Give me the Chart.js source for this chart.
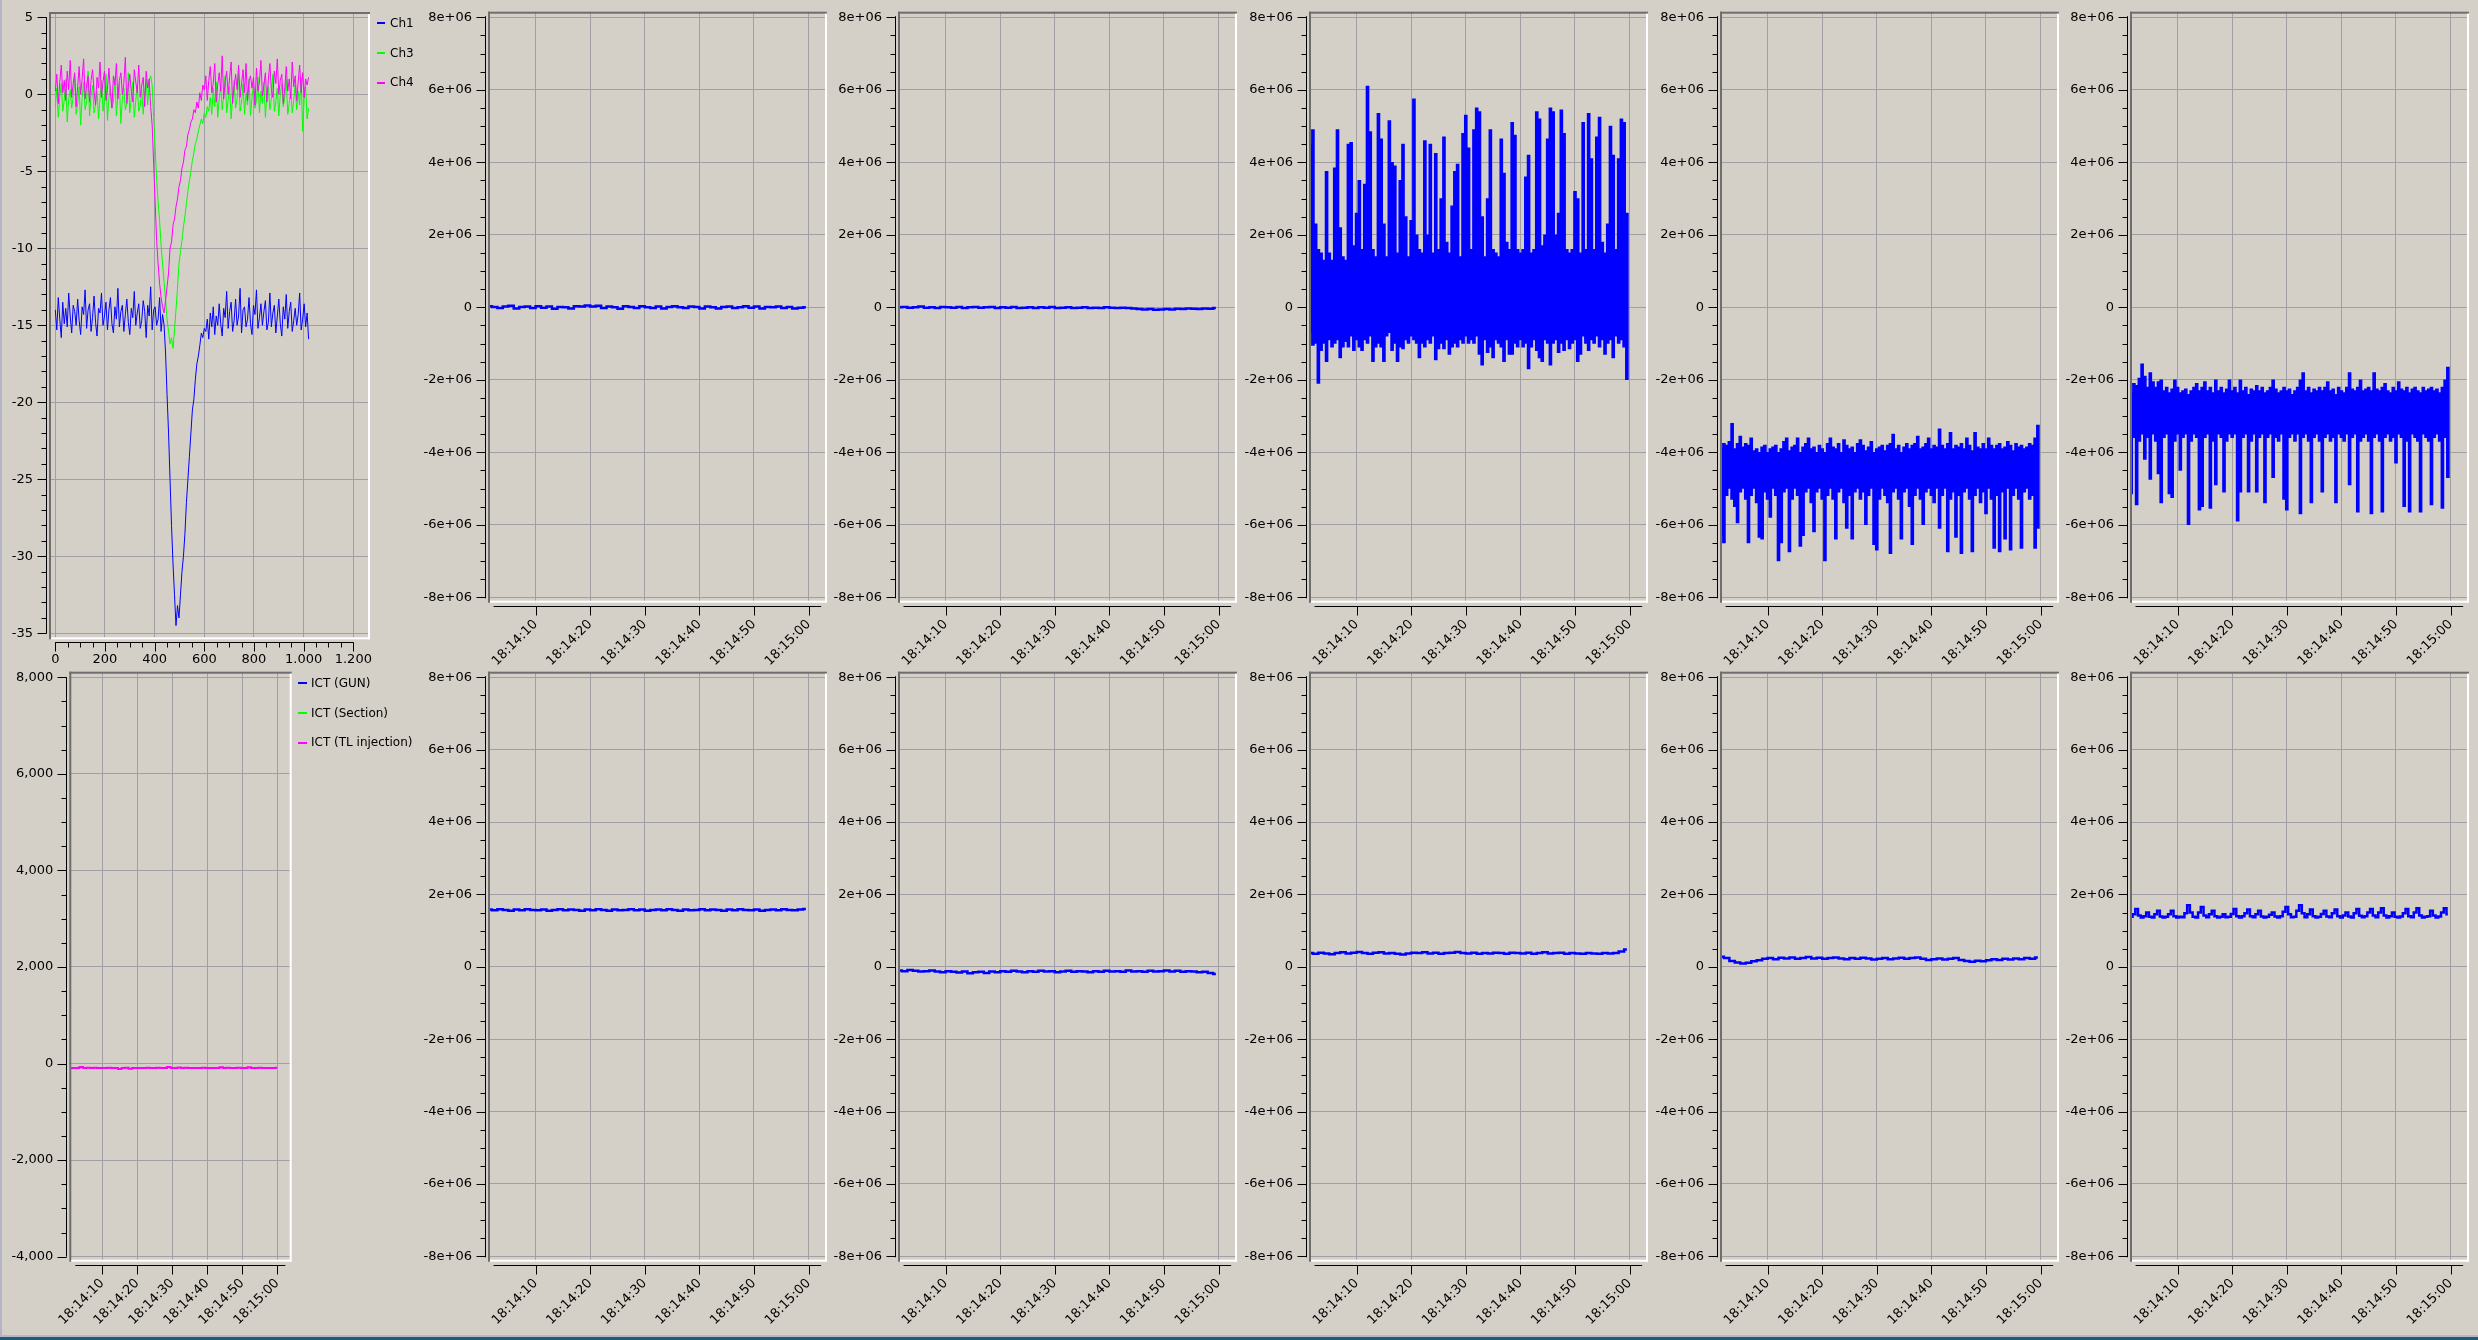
<!DOCTYPE html>
<html>
<head>
<meta charset="utf-8">
<title>Scope and beam monitor panels</title>
<script src="https://cdn.jsdelivr.net/npm/chart.js@4.4.1/dist/chart.umd.min.js"></script>
<style>
    html, body { margin: 0; padding: 0; }
    body {
        width: 2478px; height: 1340px; overflow: hidden; position: relative;
        background: #d4d0c8; font-family: 'DejaVu Sans', sans-serif;
    }
    canvas { position: absolute; }
    .edge { position: absolute; }
    .lg {
        position: absolute; height: 16px; line-height: 16px; font-size: 12px;
        color: #000; white-space: nowrap; z-index: 2;
    }
    .lg i { display: inline-block; height: 2px; vertical-align: middle; }
</style>
</head>
<body>
<div class="edge" style="left:0;top:0;width:2px;height:1340px;background:#b4b4c6"></div>
<div class="edge" style="left:0;top:1335px;width:2478px;height:2px;background:#b8b8c2"></div>
<div class="edge" style="left:0;top:1337px;width:2478px;height:3px;background:#1d5b7a"></div>

<script>
// ---------- data ----------

// Scope traces (top-left), one sample every 6 units starting at 0
const scopeStep = 6;
const scopeNames = ['Ch1', 'Ch3', 'Ch4'];
const scopeColors = ['#0000ff', '#00ff00', '#ff00ff'];
const scopeXLabels = ['0', '200', '400', '600', '800', '1.000', '1.200'];
const ch1 = [
    // before the dip
    -14.0, -15.3, -13.2, -14.6, -15.8, -13.5, -14.9, -13.9, -15.1, -12.9,
    -14.4, -15.5, -13.7, -14.1, -15.0, -13.3, -14.7, -15.6, -13.8, -14.3,
    -12.7, -15.2, -14.0, -13.6, -15.4, -14.5, -13.1, -14.8, -15.7, -13.9,
    -14.2, -12.9, -15.0, -14.4, -13.5, -15.3, -14.0, -13.2, -14.9, -15.5,
    -13.8, -14.6, -12.6, -15.1, -14.1, -13.7, -15.4, -14.3, -13.3, -14.8,
    -15.6, -13.9, -14.5, -12.8, -15.0, -14.2, -13.6, -15.2, -14.7, -13.4,
    -14.1, -15.8, -13.7, -14.4, -12.5, -15.3, -14.0, -13.8, -15.0, -14.6,
    -13.2, -15.4, -14.3,
    // dip
    -15.0, -16.8, -19.5, -22.0, -25.0, -28.0, -30.5, -32.5, -34.5, -33.2,
    -34.0, -32.5, -31.0, -30.0, -28.5, -26.5, -25.0, -23.5, -22.0, -20.5,
    -19.8, -18.5, -17.5, -17.0, -16.3, -15.5, -15.8, -15.2,
    // after the dip
    -15.4, -14.6, -15.9, -14.2, -15.1, -13.8, -15.6, -14.4, -15.0, -13.6,
    -14.9, -15.7, -13.9, -14.5, -12.8, -15.2, -14.1, -13.5, -15.4, -14.7,
    -13.3, -15.0, -14.4, -12.6, -15.5, -14.0, -13.8, -15.1, -14.6, -13.2,
    -14.9, -15.6, -13.7, -14.3, -12.7, -15.2, -14.5, -13.6, -15.0, -14.1,
    -13.4, -15.3, -14.8, -12.9, -15.1, -14.2, -13.7, -15.5, -14.4, -13.3,
    -14.9, -15.7, -13.8, -14.6, -13.0, -15.2, -14.1, -13.5, -15.4, -14.7,
    -13.9, -15.0, -14.3, -12.9, -15.3, -14.6, -13.6, -15.1, -14.2, -15.9
];
const ch3 = [
    -0.8, 0.4, -1.5, -0.2, 0.7, -1.1, -0.4, 1.0, -1.8, -0.3,
    0.3, -0.9, -0.1, 1.2, -1.3, -0.6, 0.5, -2.0, -0.2, 0.8,
    -1.0, -0.5, 1.5, -1.4, -0.1, 0.6, -1.2, -0.7, 0.2, -1.6,
    -0.3, 0.9, -1.1, -0.4, 1.3, -1.7, -0.2, 0.5, -0.9, -0.5,
    1.1, -1.4, -0.1, 0.7, -1.9, -0.3, 0.4, -1.0, -0.6, 1.4,
    -1.2, -0.2, 0.8, -1.5, -0.4, 0.6, -1.1, -0.8, 0.3, -1.3,
    0.1, 1.0, -0.7, 0.9, 1.2,
    0.6, -1.5, -3.5, -5.5, -7.0, -8.2, -9.8, -11.0, -12.2, -13.3,
    -14.6, -15.4, -16.2, -15.8, -16.5, -15.3, -14.0, -12.6, -11.0, -10.2,
    -9.5, -8.6, -7.9, -7.1, -6.3, -5.6, -5.0, -4.3, -3.8, -3.2,
    -2.9, -2.4, -2.0, -1.6, -1.9, -1.2, -1.5, -0.8, -1.1,
    -0.2, -1.3, 0.4, -0.8, 0.8, -1.5, -0.3, 0.6, -1.0, -0.1,
    1.2, -1.2, -0.4, 0.5, -1.6, -0.2, 0.9, -0.9, -0.3, 1.4,
    -1.1, -0.5, 0.7, -1.3, 0.1, -0.7, 1.0, -1.4, -0.2, 0.6,
    -0.9, -0.4, 1.1, -1.2, 0.2, -0.6, 0.8, -1.5, -0.1, 0.5,
    -1.0, -0.3, 1.3, -1.1, -0.5, 0.4, -1.4, 0.0, 0.7, -0.8,
    -0.2, 1.0, -1.3, -0.6, 0.3, -1.2, -0.4, 0.6, -1.0, 0.2,
    -0.7, 1.1, -2.4, -0.3, 0.5, -1.6, -0.9
];
const ch4 = [
    0.2, 1.3, -0.6, 0.8, 1.9, 0.1, 0.9, -0.4, 1.5, 0.3,
    2.2, -0.2, 0.7, 1.4, -0.8, 0.5, 1.8, 0.0, 1.0, 2.3,
    -0.3, 0.6, 1.2, -0.5, 0.9, 1.6, 0.2, -0.7, 1.1, 0.4,
    2.1, -0.2, 0.8, 1.5, -0.4, 0.3, 1.7, 0.1, -0.9, 1.2,
    0.6, 2.0, -0.3, 0.9, 1.4, 0.0, 0.7, 2.4, -0.6, 0.5,
    1.3, 0.2, -0.5, 1.6, 0.8, 0.1, 1.9, -0.2, 0.6, 1.1,
    -0.8, 1.5, 0.4, 1.0,
    -0.8, -2.0, -4.5, -7.0, -9.5, -11.0, -12.3, -13.2, -13.8, -14.2,
    -13.4, -12.5, -11.6, -10.0, -9.6, -8.5, -8.1, -7.3, -6.8, -6.0,
    -5.6, -4.8, -4.4, -3.6, -3.4, -2.6, -2.3, -1.8, -1.6, -1.0,
    -1.2, -0.5, -0.9, 0.1, -0.4, 0.6,
    0.3, 1.2, -0.4, 0.9, 1.8, 0.1, 0.7, 2.0, -0.5, 0.6,
    1.4, 0.2, 2.5, -0.3, 0.8, 1.5, 0.0, 1.1, 2.1, -0.6,
    0.5, 1.3, 0.3, 1.9, -0.2, 0.7, 1.6, 0.1, 2.0, -0.4,
    0.9, 1.2, 0.4, 1.1, -0.7, 1.7, 0.2, 0.8, 2.2, -0.1,
    0.6, 1.4, -0.5, 1.0, 2.0, 0.3, -0.2, 1.5, 0.7, 2.3,
    0.0, 0.9, 1.3, -0.6, 0.4, 1.8, 0.2, 1.0, -0.3, 2.1,
    0.5, 1.2, -0.4, 0.8, 1.9, 0.1, 1.4, -0.2, 1.0, 0.6,
    1.1
];

// Time axes: seconds after 18:14:00
const timeLabels = ['18:14:10', '18:14:20', '18:14:30', '18:14:40', '18:14:50', '18:15:00'];

// ICT panel (bottom-left), one sample per second from t = 1
const ictNames = ['ICT (GUN)', 'ICT (Section)', 'ICT (TL injection)'];
const ictColors = ['#0000ff', '#00ff00', '#ff00ff'];
const ictYTicks = [-4000, -2000, 0, 2000, 4000, 6000, 8000];
const ictGun = [];      // no samples visible in this window
const ictSection = [];  // no samples visible in this window
const ictTL = [
    -95, -90, -92, -70, -90, -88, -92, -85, -90, -91,
    -90, -89, -92, -90, -115, -90, -88, -110, -90, -92,
    -90, -91, -89, -90, -92, -88, -90, -91, -70, -90,
    -92, -80, -90, -89, -91, -90, -92, -90, -88, -90,
    -91, -90, -92, -75, -90, -89, -91, -90, -88, -90,
    -92, -78, -90, -91, -89, -90, -92, -90, -91, -85
];

// Quiet signals (units of 1e6), one sample per second from t = 1.5
const r1c1 = [
    0.03, 0.01, -0.02, 0.02, 0.04, -0.03, 0.01, 0.02, -0.02, 0.03,
    -0.01, 0.02, -0.04, 0.01, 0.00, -0.03, 0.03, 0.02, 0.05, 0.02,
    0.04, -0.02, 0.02, 0.00, -0.04, 0.03, 0.01, -0.02, 0.03, 0.00,
    -0.02, 0.02, -0.03, 0.01, 0.03, 0.00, -0.02, 0.02, 0.01, -0.03,
    0.02, 0.00, -0.03, 0.01, 0.02, -0.02, 0.00, 0.03, -0.01, 0.02,
    -0.03, 0.01, 0.00, 0.02, -0.02, 0.01, -0.03, -0.01, 0.00
];
const r1c2 = [
    0.00, 0.01, -0.01, 0.00, 0.02, -0.01, 0.00, -0.02, 0.01, 0.00,
    -0.01, 0.01, -0.02, 0.00, 0.01, -0.01, 0.00, 0.01, -0.02, 0.00,
    -0.01, 0.01, -0.02, -0.01, 0.00, -0.02, 0.00, -0.01, 0.01, -0.02,
    -0.01, 0.00, -0.02, -0.01, 0.00, -0.02, -0.01, -0.02, 0.00, -0.01,
    -0.02, -0.01, -0.02, -0.03, -0.05, -0.06, -0.05, -0.07, -0.06, -0.05,
    -0.06, -0.04, -0.05, -0.03, -0.04, -0.05, -0.03, -0.04, -0.02
];
const r2c1 = [
    1.58, 1.56, 1.59, 1.57, 1.55, 1.58, 1.56, 1.59, 1.57, 1.56,
    1.58, 1.55, 1.57, 1.59, 1.56, 1.58, 1.57, 1.55, 1.58, 1.56,
    1.59, 1.57, 1.55, 1.58, 1.56, 1.57, 1.59, 1.56, 1.58, 1.55,
    1.57, 1.58, 1.56, 1.59, 1.57, 1.55, 1.58, 1.56, 1.57, 1.59,
    1.56, 1.58, 1.57, 1.55, 1.58, 1.56, 1.59, 1.57, 1.56, 1.58,
    1.55, 1.57, 1.58, 1.56, 1.59, 1.57, 1.56, 1.58, 1.60
];
const r2c2 = [
    -0.10, -0.12, -0.09, -0.11, -0.13, -0.12, -0.10, -0.13, -0.15, -0.12,
    -0.14, -0.16, -0.13, -0.18, -0.15, -0.14, -0.17, -0.13, -0.15, -0.12,
    -0.14, -0.11, -0.13, -0.15, -0.12, -0.14, -0.11, -0.13, -0.12, -0.15,
    -0.13, -0.11, -0.14, -0.12, -0.13, -0.15, -0.12, -0.14, -0.11, -0.13,
    -0.12, -0.14, -0.10, -0.13, -0.12, -0.14, -0.11, -0.13, -0.12, -0.10,
    -0.13, -0.11, -0.14, -0.12, -0.13, -0.15, -0.14, -0.17, -0.20
];
const r2c3 = [
    0.38, 0.36, 0.39, 0.37, 0.35, 0.38, 0.40, 0.37, 0.39, 0.41,
    0.38, 0.36, 0.39, 0.40, 0.37, 0.38, 0.36, 0.34, 0.37, 0.39,
    0.38, 0.40, 0.37, 0.39, 0.36, 0.38, 0.39, 0.41, 0.38, 0.37,
    0.39, 0.36, 0.38, 0.37, 0.39, 0.38, 0.36, 0.39, 0.38, 0.37,
    0.39, 0.36, 0.38, 0.40, 0.37, 0.38, 0.39, 0.36, 0.38, 0.37,
    0.36, 0.38, 0.37, 0.36, 0.38, 0.37, 0.38, 0.42, 0.48
];
const r2c4 = [
    0.28, 0.24, 0.16, 0.12, 0.09, 0.11, 0.15, 0.18, 0.22, 0.24,
    0.21, 0.25, 0.23, 0.26, 0.22, 0.24, 0.27, 0.23, 0.25, 0.22,
    0.24, 0.26, 0.23, 0.21, 0.24, 0.22, 0.25, 0.23, 0.20, 0.22,
    0.24, 0.21, 0.23, 0.25, 0.22, 0.24, 0.26, 0.22, 0.19, 0.21,
    0.23, 0.20, 0.22, 0.24, 0.19, 0.16, 0.14, 0.17, 0.15, 0.18,
    0.21, 0.19, 0.22, 0.20, 0.23, 0.21, 0.24, 0.22, 0.26
];

// Busier signals (units of 1e6), one sample every 0.5 s from t = 1.5
const r2c5 = [
    1.38, 1.45, 1.60, 1.42, 1.36, 1.40, 1.50, 1.38, 1.36, 1.45,
    1.55, 1.39, 1.36, 1.38, 1.45, 1.55, 1.40, 1.36, 1.38, 1.37,
    1.48, 1.70, 1.50, 1.38, 1.36, 1.50, 1.65, 1.42, 1.37, 1.45,
    1.55, 1.40, 1.36, 1.38, 1.45, 1.37, 1.38, 1.46, 1.60, 1.40,
    1.36, 1.40, 1.48, 1.58, 1.40, 1.37, 1.45, 1.55, 1.39, 1.36,
    1.38, 1.44, 1.50, 1.39, 1.36, 1.40, 1.52, 1.65, 1.45, 1.37,
    1.38, 1.55, 1.70, 1.48, 1.37, 1.45, 1.58, 1.40, 1.36, 1.38,
    1.46, 1.55, 1.39, 1.37, 1.48, 1.58, 1.40, 1.36, 1.42, 1.50,
    1.39, 1.36, 1.48, 1.60, 1.41, 1.37, 1.40, 1.50, 1.60, 1.42,
    1.37, 1.50, 1.62, 1.42, 1.36, 1.40, 1.50, 1.38, 1.36, 1.39,
    1.48, 1.60, 1.40, 1.37, 1.50, 1.62, 1.42, 1.36, 1.38, 1.40,
    1.55, 1.42, 1.36, 1.39, 1.50, 1.62, 1.45
];

// Dense signals: per 0.5 s bin, the low and high excursion (units of 1e6)
const r1c3Hi = [
    4.5, 4.9, 2.3, 1.6, 1.5, 1.3, 3.75, 1.5, 1.3, 3.85,
    4.9, 2.2, 1.4, 1.3, 4.5, 4.55, 1.7, 2.6, 3.5, 1.6,
    3.4, 6.1, 4.85, 1.6, 1.4, 5.35, 4.65, 2.3, 1.4, 5.15,
    4.0, 3.9, 1.5, 3.5, 4.5, 2.5, 1.4, 2.4, 5.75, 2.0,
    1.6, 1.5, 4.6, 2.0, 4.5, 1.5, 4.25, 1.6, 3.0, 4.7,
    1.8, 1.5, 2.8, 3.75, 3.95, 1.4, 4.8, 5.3, 4.4, 1.6,
    4.9, 5.5, 5.4, 2.5, 1.4, 3.0, 4.9, 1.6, 1.5, 1.4,
    4.65, 3.7, 1.8, 1.6, 5.1, 4.75, 1.6, 1.5, 1.6, 3.6,
    4.2, 1.5, 1.6, 5.4, 5.2, 1.7, 2.0, 4.65, 5.5, 5.4,
    2.0, 2.6, 5.45, 4.8, 1.6, 1.5, 1.6, 3.2, 3.0, 1.5,
    5.1, 1.6, 5.35, 4.1, 1.6, 4.7, 5.25, 1.8, 1.5, 2.3,
    5.0, 4.2, 1.6, 4.1, 5.2, 5.1, 2.6
];
const r1c3Lo = [
    -0.7, -1.05, -1.0, -2.1, -1.2, -1.0, -1.5, -0.9, -1.1, -1.0,
    -0.9, -1.4, -1.1, -0.95, -1.1, -0.8, -1.2, -0.9, -1.1, -1.2,
    -0.9, -1.0, -0.8, -1.5, -1.1, -1.0, -1.1, -1.5, -0.8, -0.7,
    -1.2, -1.0, -1.5, -1.1, -1.15, -0.9, -1.0, -0.8, -0.9, -1.0,
    -1.4, -1.0, -1.1, -0.9, -1.0, -0.8, -1.45, -1.15, -1.0, -1.15,
    -0.9, -1.3, -1.1, -1.0, -1.1, -0.9, -1.0, -0.8, -1.0, -0.9,
    -1.0, -0.8, -1.3, -1.6, -0.9, -1.25, -1.1, -1.4, -0.9, -1.0,
    -1.1, -1.5, -0.9, -1.3, -1.3, -1.0, -1.1, -0.9, -1.1, -1.0,
    -1.7, -1.1, -0.9, -1.2, -1.4, -1.5, -0.9, -1.0, -1.6, -1.0,
    -0.9, -1.25, -1.0, -1.2, -0.9, -1.15, -1.0, -0.9, -1.5, -1.3,
    -0.8, -1.0, -1.2, -0.9, -1.0, -0.8, -1.1, -0.9, -1.3, -1.0,
    -0.9, -1.4, -0.8, -1.0, -0.9, -1.1, -2.0
];
const r1c4Hi = [
    -3.9, -3.75, -3.8, -3.7, -3.2, -3.9, -3.75, -3.55, -3.85, -3.75,
    -3.8, -3.6, -3.95, -3.9, -4.0, -3.85, -3.8, -4.0, -3.9, -3.85,
    -3.8, -4.0, -3.9, -3.7, -3.6, -3.95, -3.85, -3.8, -3.6, -4.0,
    -3.85, -3.75, -3.6, -3.9, -3.85, -4.0, -3.8, -3.9, -4.0, -3.75,
    -3.6, -3.85, -3.9, -3.75, -4.0, -3.65, -3.8, -3.9, -3.85, -4.0,
    -3.75, -3.65, -3.8, -3.95, -3.85, -3.7, -4.0, -3.9, -3.85, -3.8,
    -3.95, -3.8, -3.75, -3.5, -3.9, -3.8, -4.0, -3.85, -3.75, -3.9,
    -3.8, -3.75, -3.55, -3.9, -3.85, -3.75, -3.6, -3.9, -3.8, -3.85,
    -3.35, -3.8, -3.9, -3.75, -3.45, -3.9, -3.8, -3.85, -3.75, -3.9,
    -3.6, -3.8, -3.95, -3.45, -3.85, -3.9, -3.75, -3.9, -3.6, -3.8,
    -3.9, -3.8, -3.75, -3.9, -3.85, -3.7, -3.8, -3.95, -3.75, -3.85,
    -3.8, -3.9, -3.85, -3.75, -3.8, -3.6, -3.25
];
const r1c4Lo = [
    -6.3, -6.5, -5.2, -5.0, -5.3, -5.5, -5.95, -5.1, -5.0, -5.3,
    -6.5, -5.2, -5.0, -5.4, -6.35, -6.4, -5.1, -5.3, -5.8, -5.0,
    -5.2, -7.0, -6.5, -5.1, -5.0, -6.75, -5.3, -5.0, -5.2, -6.6,
    -6.3, -5.1, -5.0, -5.4, -6.2, -5.1, -5.0, -5.3, -7.0, -5.2,
    -5.0, -5.3, -6.4, -5.1, -5.0, -5.4, -6.1, -5.2, -6.4, -5.1,
    -5.0, -5.3, -5.1, -6.0, -5.2, -5.0, -6.55, -6.7, -5.3, -5.0,
    -5.2, -5.4, -6.8, -5.1, -5.0, -5.3, -6.4, -5.1, -5.0, -5.5,
    -6.55, -5.2, -5.0, -5.3, -6.0, -5.1, -5.0, -5.2, -5.4, -5.0,
    -6.1, -5.2, -5.0, -6.75, -5.3, -5.1, -6.35, -5.2, -6.8, -5.1,
    -5.0, -5.3, -6.75, -5.2, -5.0, -5.4, -5.1, -5.7, -5.0, -5.3,
    -6.65, -5.2, -6.75, -5.1, -6.4, -5.0, -6.7, -5.2, -5.0, -5.3,
    -6.65, -5.1, -5.0, -5.3, -5.2, -6.65, -6.1
];
const r1c5Hi = [
    -2.35, -2.1, -2.15, -1.95, -1.56, -1.9, -2.2, -1.8, -2.05, -2.2,
    -2.05, -2.0, -2.3, -2.2, -2.35, -2.25, -2.0, -2.2, -2.35, -2.3,
    -2.25, -2.4, -2.3, -2.2, -2.1, -2.3, -2.2, -2.05, -2.3, -2.2,
    -2.35, -2.0, -2.3, -2.2, -2.35, -2.25, -2.0, -2.3, -2.2, -2.35,
    -2.0, -2.3, -2.2, -2.4, -2.25, -2.3, -2.15, -2.3, -2.2, -2.35,
    -2.3, -2.2, -2.0, -2.25, -2.35, -2.3, -2.2, -2.3, -2.25, -2.4,
    -2.3, -2.2, -2.0, -1.8, -2.3, -2.2, -2.35, -2.25, -2.3, -2.2,
    -2.3, -2.2, -2.05, -2.3, -2.25, -2.4, -2.2, -2.3, -2.35, -2.2,
    -1.8, -2.25, -2.3, -2.2, -2.0, -2.3, -2.25, -2.2, -2.3, -1.8,
    -2.25, -2.3, -2.2, -2.1, -2.3, -2.35, -2.2, -2.3, -2.05, -2.25,
    -2.3, -2.2, -2.35, -2.25, -2.2, -2.3, -2.35, -2.2, -2.3, -2.25,
    -2.2, -2.3, -2.25, -2.35, -2.2, -2.0, -1.65
];
const r1c5Lo = [
    -5.15, -3.6, -5.45, -3.7, -3.5, -4.2, -3.6, -4.75, -3.5, -3.7,
    -4.6, -5.4, -3.6, -3.5, -5.15, -5.25, -3.7, -3.5, -4.5, -3.6,
    -3.5, -6.0, -3.7, -3.5, -3.6, -5.6, -5.5, -3.6, -3.5, -5.55,
    -3.7, -4.9, -3.5, -3.6, -5.1, -3.7, -3.5, -3.6, -3.5, -5.9,
    -5.1, -3.6, -3.5, -5.1, -3.7, -3.5, -5.1, -3.6, -3.5, -5.4,
    -3.6, -3.5, -4.7, -3.6, -3.7, -3.5, -5.3, -5.6, -3.6, -3.5,
    -3.7, -3.5, -5.7, -3.6, -3.5, -3.7, -5.4, -3.6, -3.5, -3.7,
    -5.1, -3.6, -3.5, -3.7, -3.6, -5.4, -3.5, -3.6, -3.7, -3.5,
    -4.9, -3.6, -3.5, -5.65, -3.7, -3.6, -3.5, -3.7, -5.7, -3.6,
    -3.5, -3.7, -5.65, -3.6, -3.5, -3.7, -3.6, -4.3, -3.5, -3.6,
    -5.5, -3.7, -5.65, -3.5, -3.6, -3.7, -5.65, -3.5, -3.6, -3.7,
    -5.45, -3.6, -3.5, -3.7, -5.55, -3.6, -4.7
];

// sample grids
const quietT0 = 1.5, quietDt = 1;
const busyT0 = 1.5, busyDt = 0.5;
const ictT0 = 1, ictDt = 1;

// ---------- drawing ----------

Chart.defaults.font.family = "'DejaVu Sans', sans-serif";
Chart.defaults.font.size = 13;
Chart.defaults.color = '#000';

const GRID = '#a0a0a4';
const BLUE = '#0000ff';

// Qwt-like look: sunken frame, backbones, major and minor tick marks
const qwtPlugin = {
    id: 'qwt',
    afterDraw(chart, args, o) {
        const { ctx, chartArea: a } = chart;
        const sx = chart.scales.x, sy = chart.scales.y;
        ctx.save();

        ctx.fillStyle = '#6e6e6e';
        ctx.fillRect(a.left, a.top, a.right - a.left, 2);
        ctx.fillRect(a.left, a.top, 2, a.bottom - a.top);
        ctx.fillStyle = '#ffffff';
        ctx.fillRect(a.right - 2, a.top + 2, 2, a.bottom - a.top - 2);
        ctx.fillRect(a.left + 2, a.bottom - 2, a.right - a.left - 2, 2);

        ctx.strokeStyle = '#000';
        ctx.lineWidth = 1;
        ctx.beginPath();

        // y backbone
        const bx = Math.round(a.left - 3) + 0.5;
        ctx.moveTo(bx, sy.getPixelForValue(o.ySpan[1]));
        ctx.lineTo(bx, sy.getPixelForValue(o.ySpan[0]));
        if (o.yMinor) {
            for (let k = Math.ceil(o.ySpan[0] / o.yMinor - 1e-9); k * o.yMinor <= o.ySpan[1] + 1e-9; k++) {
                const p = Math.round(sy.getPixelForValue(k * o.yMinor)) + 0.5;
                ctx.moveTo(bx - 5, p); ctx.lineTo(bx, p);
            }
        }
        sy.ticks.forEach(t => {
            const p = Math.round(sy.getPixelForValue(t.value)) + 0.5;
            ctx.moveTo(bx - 9, p); ctx.lineTo(bx, p);
        });

        // x backbone
        const by = Math.round(a.bottom + 3) + 0.5;
        ctx.moveTo(sx.getPixelForValue(o.xSpan[0]), by);
        ctx.lineTo(sx.getPixelForValue(o.xSpan[1]), by);
        if (o.xMinor) {
            for (let k = Math.ceil(o.xSpan[0] / o.xMinor - 1e-9); k * o.xMinor <= o.xSpan[1] + 1e-9; k++) {
                const p = Math.round(sx.getPixelForValue(k * o.xMinor)) + 0.5;
                ctx.moveTo(p, by); ctx.lineTo(p, by + 5);
            }
        }
        sx.ticks.forEach(t => {
            const p = Math.round(sx.getPixelForValue(t.value)) + 0.5;
            ctx.moveTo(p, by); ctx.lineTo(p, by + 9);
        });

        ctx.stroke();
        ctx.restore();
    }
};

function mountCanvas(left, top, w, h) {
    const c = document.createElement('canvas');
    c.width = w; c.height = h;
    c.style.left = left + 'px'; c.style.top = top + 'px';
    c.style.width = w + 'px'; c.style.height = h + 'px';
    document.body.appendChild(c);
    return c;
}

// The label offset is carried by an invisible tick mark rather than ticks.padding,
// so it does not push the plot area down.
function linAxis(o) {
    const ticks = {
        stepSize: o.step, includeBounds: false, autoSkip: false,
        padding: 0, callback: o.fmt
    };
    if (o.rot != null) { ticks.minRotation = o.rot; ticks.maxRotation = o.rot; }
    const axis = {
        type: 'linear', min: o.min, max: o.max, offset: false,
        afterFit: o.fit,
        ticks,
        grid: {
            color: GRID, lineWidth: 1, offset: false,
            drawTicks: true, tickLength: o.pad, tickColor: 'rgba(0,0,0,0)'
        },
        border: { display: false }
    };
    if (o.fixedTicks) {
        axis.afterBuildTicks = s => { s.ticks = o.fixedTicks.map(v => ({ value: v })); };
    }
    return axis;
}

function makeChart(canvas, datasets, x, y, qwt, padTop, padRight) {
    return new Chart(canvas, {
        type: 'line',
        data: { datasets },
        options: {
            responsive: false,
            animation: false,
            devicePixelRatio: 1,
            layout: { padding: { top: padTop, right: padRight, left: 0, bottom: 0 } },
            plugins: { legend: { display: false }, tooltip: { enabled: false }, qwt },
            scales: { x, y }
        },
        plugins: [qwtPlugin]
    });
}

function points(values, t0, dt) {
    return values.map((v, i) => ({ x: t0 + i * dt, y: v }));
}
function ranges(lo, hi, t0, dt) {
    return lo.map((v, i) => ({ x: t0 + i * dt, y: [v, hi[i]] }));
}
function lineSet(data, color, width, order, stepped) {
    return {
        data, borderColor: color, borderWidth: width, pointRadius: 0,
        tension: 0, fill: false, order: order || 0, stepped: stepped || false
    };
}
function bandSet(data) {
    return { type: 'bar', data, backgroundColor: BLUE, borderWidth: 0, barThickness: 3 };
}
const timeFmt = v => timeLabels[Math.round(v / 10) - 1];

function addLegend(x, y0, names, colors, markW, gap) {
    names.forEach((name, i) => {
        const d = document.createElement('div');
        d.className = 'lg';
        d.style.left = x + 'px';
        d.style.top = (y0 + i * 29.8 - 8) + 'px';
        d.innerHTML = `<i style="width:${markW}px;margin-right:${gap}px;background:${colors[i]}"></i>${name}`;
        document.body.appendChild(d);
    });
}

// --- top-left scope panel ---
(function () {
    const xs = v => v.map((y, i) => ({ x: i * scopeStep, y }));
    const cv = mountCanvas(0, 0, 382, 670);
    makeChart(cv,
        [lineSet(xs(ch1), scopeColors[0], 1, 3), lineSet(xs(ch3), scopeColors[1], 1, 2), lineSet(xs(ch4), scopeColors[2], 1, 1)],
        linAxis({ min: -25.4, max: 1267.2, step: 200, pad: 13, rot: 0, fmt: v => scopeXLabels[Math.round(v / 200)], fit: s => { s.height = 30.7; } }),
        linAxis({ min: -35.39, max: 5.344, step: 5, pad: 16, fmt: v => String(v), fit: s => { s.width = 49; } }),
        { xSpan: [0, 1200], xMinor: 50, ySpan: [-35, 5], yMinor: 1 },
        12, 12);
    addLegend(377, 22.7, scopeNames, scopeColors, 8, 5);
})();

// --- bottom-left ICT panel ---
(function () {
    const cv = mountCanvas(0, 660, 304, 680);
    makeChart(cv,
        [lineSet(points(ictGun, ictT0, ictDt), ictColors[0], 2, 3),
         lineSet(points(ictSection, ictT0, ictDt), ictColors[1], 2, 2),
         lineSet(points(ictTL, ictT0, ictDt), ictColors[2], 2, 1, 'middle')],
        linAxis({ min: 0.571, max: 64.11, step: 10, pad: 14, rot: 45, fmt: timeFmt, fit: s => { s.height = 78.3; } }),
        linAxis({ min: -4104, max: 8116, step: 2000, pad: 16, fixedTicks: ictYTicks, fmt: v => v.toLocaleString('en-US'), fit: s => { s.width = 69.3; } }),
        { xSpan: [2.3, 62.3], ySpan: [-4000, 8000], yMinor: 500 },
        11.7, 12.3);
    addLegend(298, 682.7, ictNames, ictColors, 9, 4);
})();

// --- 5 x 2 grid of time panels (values in units of 1e6) ---
const colLeft = [487.7, 898.3, 1309, 1719.5, 2130];
const rowBox = [
    { top: 0, height: 668, frameTop: 11.7, frameBottom: 602.7 },
    { top: 660, height: 680, frameTop: 671.7, frameBottom: 1261.7 }
];

function timePanel(row, col, datasets) {
    const r = rowBox[row];
    const cv = mountCanvas(colLeft[col] - 72, r.top, 72 + 339 + 8, r.height);
    makeChart(cv, datasets,
        linAxis({ min: 1.282, max: 63.37, step: 10, pad: 14, rot: 45, fmt: timeFmt, fit: s => { s.height = r.top + r.height - r.frameBottom; } }),
        linAxis({ min: -8.15, max: 8.155, step: 2, pad: 16, fmt: v => v === 0 ? '0' : v + 'e+06', fit: s => { s.width = 72; } }),
        { xSpan: [2.3, 62.3], ySpan: [-8.03, 8.03], yMinor: 0.5 },
        r.frameTop - r.top, 8);
}

timePanel(0, 0, [lineSet(points(r1c1, quietT0, quietDt), BLUE, 2.5, 0, 'middle')]);
timePanel(0, 1, [lineSet(points(r1c2, quietT0, quietDt), BLUE, 2.5, 0, 'middle')]);
timePanel(0, 2, [bandSet(ranges(r1c3Lo, r1c3Hi, busyT0, busyDt))]);
timePanel(0, 3, [bandSet(ranges(r1c4Lo, r1c4Hi, busyT0, busyDt))]);
timePanel(0, 4, [bandSet(ranges(r1c5Lo, r1c5Hi, busyT0, busyDt))]);
timePanel(1, 0, [lineSet(points(r2c1, quietT0, quietDt), BLUE, 2.5, 0, 'middle')]);
timePanel(1, 1, [lineSet(points(r2c2, quietT0, quietDt), BLUE, 2.5, 0, 'middle')]);
timePanel(1, 2, [lineSet(points(r2c3, quietT0, quietDt), BLUE, 2.5, 0, 'middle')]);
timePanel(1, 3, [lineSet(points(r2c4, quietT0, quietDt), BLUE, 2.5, 0, 'middle')]);
timePanel(1, 4, [lineSet(points(r2c5, busyT0, busyDt), BLUE, 2.5, 0, 'middle')]);
</script>
</body>
</html>
